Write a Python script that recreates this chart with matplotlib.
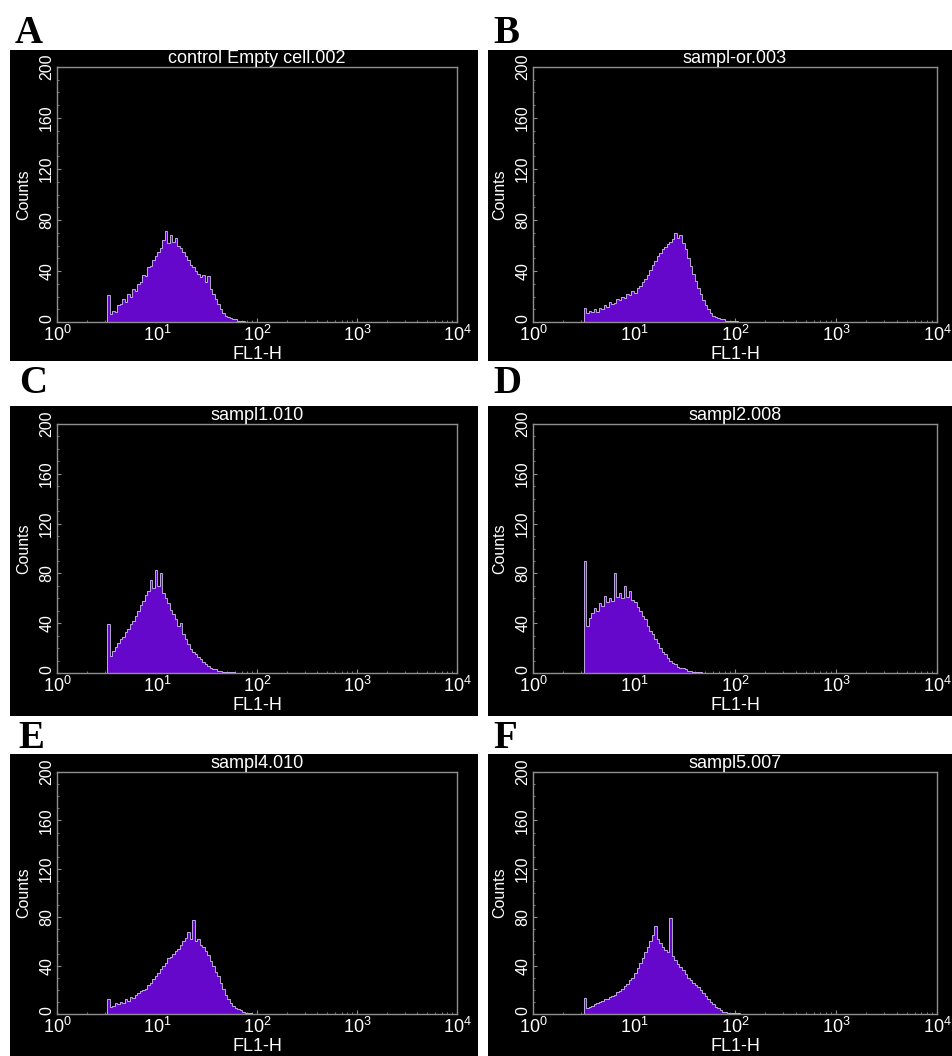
#!/usr/bin/env python3
import sys

import matplotlib
matplotlib.use('Agg')
import matplotlib.pyplot as plt
import matplotlib.transforms as mtransforms
from matplotlib.patches import Rectangle
import numpy as np

# channel grid: log10(FL1-H) of the first channel and width of one channel (decades)
chan_start = 0.5
chan_step = 0.025

titles = ['control Empty cell.002', 'sampl-or.003', 'sampl1.010',
          'sampl2.008', 'sampl4.010', 'sampl5.007']
letters = ['A', 'B', 'C', 'D', 'E', 'F']

counts_A = [21, 6, 9, 8, 13, 14, 18, 16, 22, 20, 26, 24, 30, 31, 37, 36, 43, 44, 49, 52,
            55, 58, 64, 71, 62, 68, 63, 66, 60, 58, 55, 52, 49, 45, 43, 40, 38, 35, 37, 31,
            36, 26, 22, 18, 14, 10, 7, 5, 4, 3, 2, 2, 1, 1, 1, 0]
counts_B = [11, 7, 9, 8, 10, 8, 11, 10, 13, 12, 16, 14, 15, 18, 17, 20, 19, 22, 21, 24,
            23, 27, 28, 31, 34, 37, 41, 45, 48, 52, 54, 57, 59, 61, 63, 65, 70, 66, 68, 62,
            57, 50, 44, 38, 32, 27, 22, 17, 13, 10, 7, 5, 4, 3, 2, 2, 1, 1, 1, 0.5, 0.5]
counts_C = [39, 14, 18, 21, 24, 27, 29, 33, 35, 39, 42, 46, 50, 55, 58, 63, 66, 75, 68, 83,
            70, 80, 64, 60, 56, 51, 47, 43, 38, 40, 31, 27, 23, 19, 17, 15, 13, 11, 9, 7,
            6, 4, 3, 3, 2, 2, 1, 1, 1, 0.5, 0.5]
counts_D = [90, 38, 44, 48, 52, 50, 56, 54, 62, 57, 60, 58, 80, 61, 64, 60, 70, 61, 66, 59,
            57, 53, 50, 46, 43, 38, 34, 31, 27, 24, 20, 17, 15, 12, 10, 8, 7, 5, 4, 4,
            3, 2, 2, 1, 1, 1, 0.5]
counts_E = [12, 6, 7, 9, 8, 10, 9, 12, 11, 14, 13, 16, 17, 19, 20, 21, 24, 26, 29, 31,
            34, 37, 40, 42, 46, 47, 50, 52, 54, 57, 60, 63, 68, 62, 78, 60, 62, 57, 55, 52,
            49, 44, 40, 35, 31, 26, 21, 16, 12, 9, 7, 5, 4, 3, 2, 1, 1, 0.5]
counts_F = [13, 5, 6, 7, 8, 9, 10, 11, 12, 12, 14, 15, 16, 18, 19, 21, 23, 25, 28, 30,
            34, 38, 42, 46, 51, 55, 60, 65, 73, 62, 59, 55, 53, 51, 79, 48, 45, 41, 39, 36,
            33, 30, 28, 26, 24, 22, 20, 17, 15, 12, 10, 8, 6, 5, 3, 2, 2, 1, 1, 1,
            0.5, 0.5]
all_counts = [counts_A, counts_B, counts_C, counts_D, counts_E, counts_F]

y_ticks = [0, 40, 80, 120, 160, 200]
x_ticks = [1, 10, 100, 1000, 10000]
x_ticklabels = [r'$10^0$', r'$10^1$', r'$10^2$', r'$10^3$', r'$10^4$']


def main():
    plt.rcParams['font.family'] = ['Liberation Sans', 'DejaVu Sans']
    plt.rcParams['mathtext.fontset'] = 'custom'
    plt.rcParams['mathtext.rm'] = 'Liberation Sans'
    plt.rcParams['mathtext.it'] = 'Liberation Sans:italic'

    W, H = 952, 1056
    fig = plt.figure(figsize=(W / 100, H / 100), dpi=100)
    fig.patch.set_facecolor('white')

    # pixel layout of the panels
    col_ax = [(57, 400), (533, 404)]
    row_ax = [(67, 322), (424, 673), (772, 1014)]
    col_bg = [(10, 478), (488, 952)]
    row_bg = [(50, 361), (406, 716), (754, 1056)]
    letter_xy = [(15, 43), (493, 43), (19, 393), (493, 393), (18, 748), (493, 748)]

    purple = '#6608cc'
    frame = '#8f8f8f'

    for k in range(6):
        r, c = divmod(k, 2)
        x0, x1 = col_bg[c]
        y0, y1 = row_bg[r]
        fig.add_artist(Rectangle((x0 / W, 1 - y1 / H), (x1 - x0) / W, (y1 - y0) / H,
                                 transform=fig.transFigure, facecolor='black',
                                 edgecolor='none', zorder=0))

        left, width = col_ax[c]
        top, bottom = row_ax[r]
        ax = fig.add_axes([left / W, 1 - bottom / H, width / W, (bottom - top) / H])
        ax.set_facecolor('black')

        vals = np.array(all_counts[k], dtype=float)
        edges = 10 ** (chan_start + chan_step * np.arange(len(vals) + 1))
        ax.stairs(vals, edges, fill=True, color=purple, zorder=2)
        ax.stairs(vals, edges, color='#cdbfe8', lw=0.6, zorder=3)

        ax.set_xscale('log')
        ax.set_xlim(1, 1e4)
        ax.set_ylim(0, 200)
        ax.set_xticks(x_ticks)
        ax.set_xticklabels(x_ticklabels)
        ax.set_yticks(y_ticks)
        ax.set_yticklabels([str(v) for v in y_ticks], rotation=90, va='center')
        ax.set_yticks(np.arange(0, 201, 10), minor=True)

        for s in ax.spines.values():
            s.set_color(frame)
            s.set_linewidth(1.0)
        ax.tick_params(which='both', direction='in', color=frame, labelcolor='white',
                       labelsize=13)
        ax.tick_params(axis='y', which='major', length=3, pad=2, labelsize=11.5)
        ax.tick_params(axis='x', which='major', length=3, pad=2)
        ax.tick_params(which='minor', length=1.5)

        # nudge the "0" count label up a little so it clears the 10^0 label
        lab0 = ax.get_yticklabels()[0]
        lab0.set_transform(lab0.get_transform() +
                           mtransforms.ScaledTranslation(0, 3 / 100, fig.dpi_scale_trans))

        ax.set_title(titles[k], color='white', fontsize=13, pad=2)
        ax.set_xlabel('FL1-H', color='white', fontsize=13, labelpad=0.5)
        ax.set_ylabel('Counts', color='white', fontsize=11.5, labelpad=6)

        lx, ly = letter_xy[k]
        fig.text(lx / W, 1 - ly / H, letters[k], fontsize=28, fontweight='bold',
                 family=['Liberation Serif', 'DejaVu Serif'], va='baseline', ha='left')

    fig.savefig('out.png', dpi=100, facecolor=fig.get_facecolor())


if __name__ == "__main__":
    sys.exit(main())
